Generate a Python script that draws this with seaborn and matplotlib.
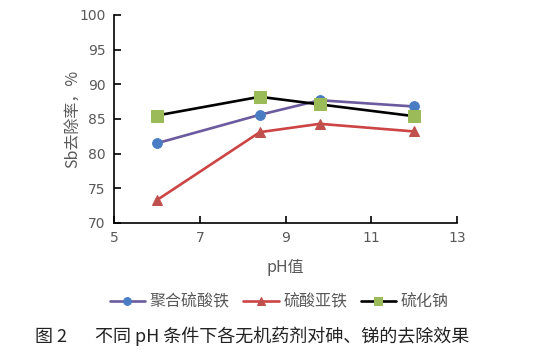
import pandas as pd
import matplotlib
matplotlib.use('Agg')
import matplotlib.pyplot as plt
import seaborn as sns

ph = [6, 8.4, 9.8, 12]
juhe = [81.5, 85.6, 87.7, 86.8]   # 聚合硫酸铁
yatie = [73.3, 83.1, 84.3, 83.2]  # 硫酸亚铁
liuhuana = [85.5, 88.2, 87.1, 85.4]  # 硫化钠
names = ['聚合硫酸铁', '硫酸亚铁', '硫化钠']

sns.set_style('white')
plt.rcParams['font.family'] = ['Noto Sans CJK SC', 'DejaVu Sans']

fig = plt.figure(figsize=(5.39, 3.56), dpi=100)
ax = fig.add_axes([0.2115, 0.3736, 0.6365, 0.5844])

styles = [
    (juhe, '#6B5B9E', '#4A7CC4', 'o', 7),
    (yatie, '#CC4444', '#C0504D', '^', 7.5),
    (liuhuana, '#000000', '#9BBB59', 's', 8),
]
for name, (vals, lc, mc, mk, ms) in zip(names, styles):
    df = pd.DataFrame({'pH': ph, 'rate': vals})
    sns.lineplot(data=df, x='pH', y='rate', ax=ax, color=lc, linewidth=1.9,
                 marker=mk, markersize=ms, markerfacecolor=mc,
                 markeredgecolor=mc, label=name)

ax.set_xlim(5, 13)
ax.set_ylim(70, 100)
ax.set_xticks([5, 7, 9, 11, 13])
ax.set_yticks(range(70, 101, 5))
for s in ['top', 'right']:
    ax.spines[s].set_visible(False)
for s in ['left', 'bottom']:
    ax.spines[s].set_color('black')
    ax.spines[s].set_linewidth(1.2)
ax.tick_params(direction='in', length=5, width=1.2, color='black',
               labelcolor='#595959', labelsize=10, pad=6, left=True, bottom=True)
for lab in ax.get_xticklabels() + ax.get_yticklabels():
    lab.set_family('DejaVu Sans')
ax.set_xlabel('pH值', color='#595959', fontsize=11.5, labelpad=10)
ax.set_ylabel('Sb去除率，%', color='#595959', fontsize=11.5, labelpad=-2)

ax.legend(loc='upper center', bbox_to_anchor=(0.482, -0.27), ncol=3,
          frameon=False, fontsize=11.5, labelcolor='#595959', markerscale=0.8,
          handlelength=2.2, handletextpad=0.3, columnspacing=0.85)

fig.text(0.065, 0.04, '图 2', fontsize=13, color='#222222')
fig.text(0.176, 0.04, '不同 pH 条件下各无机药剂对砷、锑的去除效果',
         fontsize=13, color='#222222')

fig.savefig('out.png', dpi=100)
